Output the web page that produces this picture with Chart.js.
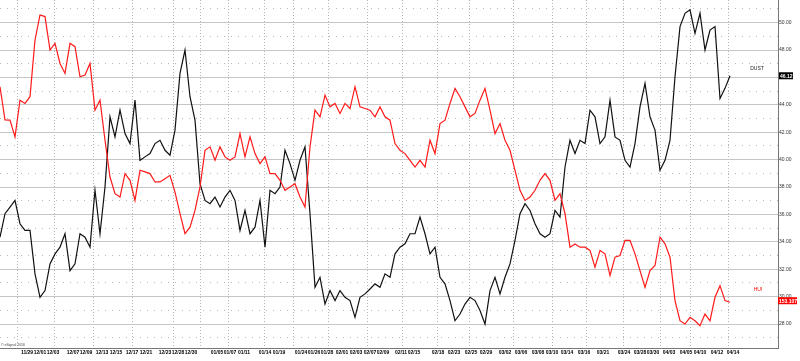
<!DOCTYPE html>
<html>
<head>
<meta charset="utf-8">
<script src="https://cdn.jsdelivr.net/npm/chart.js@4.4.7/dist/chart.umd.min.js"></script>
<style>
  html, body { margin: 0; padding: 0; background: #fff; }
  canvas { display: block; }
</style>
</head>
<body>
<canvas id="chart" width="800" height="361"></canvas>
<script>
// DUST closes, one value per bar
const dust = [
  34.34, 36.05, 36.54, 37.02, 35.32, 34.83, 34.83, 31.66, 29.95, 30.44,
  32.39, 33.12, 33.61, 34.59, 31.90, 32.39, 34.59, 34.34, 33.61, 37.76,
  34.59, 38.00, 43.12, 41.66, 43.61, 41.90, 41.17, 44.34, 39.95, 40.20,
  40.44, 41.17, 41.41, 40.68, 40.32, 42.15, 46.29, 48.00, 44.59, 42.88,
  38.24, 37.02, 36.78, 37.27, 36.54, 37.27, 37.76, 37.02, 34.83, 36.29,
  34.59, 35.07, 37.02, 33.61, 37.76, 37.51, 38.00, 40.68, 39.71, 38.49,
  39.95, 40.93, 36.05, 30.68, 31.41, 29.46, 30.44, 29.71, 30.44, 29.95,
  29.71, 28.49, 29.95, 30.20, 30.56, 30.93, 30.68, 31.66, 31.41, 33.12,
  33.61, 33.85, 34.59, 34.59, 35.80, 34.59, 33.12, 33.61, 31.41, 30.93,
  29.71, 28.24, 28.73, 29.46, 29.95, 29.71, 28.98, 28.00, 30.44, 31.41,
  30.20, 31.41, 32.39, 34.10, 36.05, 36.78, 36.29, 35.32, 34.59, 34.34,
  34.59, 36.29, 35.80, 39.46, 41.41, 40.44, 41.41, 41.17, 43.61, 43.12,
  41.17, 41.66, 44.34, 41.66, 41.41, 39.95, 39.46, 41.17, 43.85, 45.56,
  43.12, 42.15, 39.22, 39.95, 41.41, 46.05, 49.71, 50.68, 50.93, 49.22,
  50.68, 48.00, 49.46, 49.71, 44.46, 45.20, 46.12,
];

// HUI overlay, already rescaled onto the DUST axis
const hui = [
  45.32, 42.90, 42.88, 41.66, 44.34, 44.10, 44.59, 48.73, 50.56, 50.44,
  48.00, 48.49, 47.02, 46.29, 48.49, 48.24, 46.05, 46.17, 47.02, 43.61,
  44.34, 41.41, 38.73, 37.51, 37.27, 38.98, 38.49, 37.02, 39.22, 39.10,
  38.98, 38.37, 38.37, 38.61, 38.85, 37.63, 36.05, 34.59, 35.07, 36.29,
  38.00, 40.68, 40.93, 39.95, 40.93, 40.20, 39.95, 40.20, 41.90, 40.20,
  41.66, 40.44, 39.71, 40.20, 38.98, 38.98, 38.49, 37.76, 38.00, 38.24,
  37.27, 36.54, 40.93, 43.61, 43.12, 44.71, 43.85, 44.10, 43.37, 44.10,
  43.73, 45.32, 43.85, 43.73, 43.61, 43.12, 43.85, 43.12, 42.88, 41.17,
  40.68, 40.44, 39.95, 39.46, 39.95, 39.46, 41.41, 40.44, 42.63, 42.88,
  44.10, 45.20, 44.59, 43.85, 43.12, 43.37, 44.34, 45.20, 43.61, 41.90,
  42.63, 41.41, 40.68, 39.22, 37.76, 37.02, 37.27, 37.76, 38.49, 38.98,
  38.49, 37.02, 37.51, 36.05, 33.61, 33.85, 33.61, 33.61, 33.37, 32.15,
  33.37, 33.12, 31.54, 32.88, 33.00, 34.10, 34.10, 33.12, 31.90, 30.68,
  31.90, 32.27, 34.34, 33.85, 32.88, 29.71, 28.24, 28.00, 28.49, 28.24,
  27.88, 28.73, 28.24, 29.95, 30.80, 29.71, 29.59,
];

const dustLast = "46.12";
const huiLast = "153.107";

const dateLabels = [
  "11/29", "12/01", "12/03", "12/07", "12/09", "12/13", "12/15", "12/17",
  "12/21", "12/23", "12/28", "12/30", "01/05", "01/07", "01/11", "01/14",
  "01/19", "01/24", "01/26", "01/28", "02/01", "02/03", "02/07", "02/09",
  "02/11", "02/15", "02/18", "02/23", "02/25", "02/29", "03/02", "03/06",
  "03/08", "03/10", "03/14", "03/16", "03/21", "03/24", "03/28", "03/30",
  "04/03", "04/05", "04/10", "04/12", "04/14",
];
// bar index under each date label
const dateBars = [
  5.4, 8, 10.6, 14.6, 17.2, 20.4, 23.2, 26.4,
  29.2, 33, 35.6, 38.2, 43.4, 46, 48.8, 53,
  55.8, 60.2, 62.8, 65.4, 68.4, 71.2, 74, 76.6,
  80.2, 82.8, 87.6, 90.8, 94.2, 97.2, 101, 104.2,
  107.6, 110.4, 113.4, 116.8, 120.6, 124.8, 128, 130.6,
  133.8, 137.2, 140, 143.4, 146.6,
];
// bar index of the dotted vertical grid lines
const weekBars = [
  3.4, 10.8, 18.6, 26.4, 34.6, 40, 45.8, 52.8, 58.6, 65.6, 73.4,
  80.4, 87.4, 93.8, 102.6, 110.4, 117.2, 124.6, 132, 138, 145.6,
];
const yTicks = [
  27, 28, 29, 30, 31, 32, 33, 34, 35, 36, 37, 38, 39,
  40, 41, 42, 43, 44, 45, 46, 47, 48, 49, 50, 51,
];

const lastBar = 155.6;
const font = "'Liberation Sans', Arial, sans-serif";

function drawTag(ctx, x, y, text, bg, width) {
  ctx.fillStyle = bg;
  ctx.fillRect(x, y - 3.5, width, 7);
  ctx.fillStyle = "#fff";
  ctx.font = `bold 5px ${font}`;
  ctx.textAlign = "left";
  ctx.textBaseline = "middle";
  ctx.fillText(text, x + 1, y + 0.5);
}

const endLabels = {
  id: "endLabels",
  afterDraw(chart) {
    const { ctx, chartArea, scales } = chart;
    const dustY = scales.y.getPixelForValue(dust[dust.length - 1]);
    const huiY = scales.y.getPixelForValue(hui[hui.length - 1]);
    ctx.save();
    ctx.font = `5px ${font}`;
    ctx.textAlign = "center";
    ctx.textBaseline = "middle";
    ctx.fillStyle = "#222";
    ctx.fillText("DUST", chartArea.right - 21, dustY - 7);
    ctx.fillStyle = "#f00";
    ctx.fillText("HUI", chartArea.right - 20, huiY - 13);
    drawTag(ctx, chartArea.right + 1, dustY, dustLast, "#000", 14);
    drawTag(ctx, chartArea.right, huiY - 1.5, huiLast, "#f00", 19);
    ctx.font = `3.5px ${font}`;
    ctx.fillStyle = "#444";
    ctx.textAlign = "left";
    ctx.fillText("© eSignal 2016", 1, chartArea.bottom - 3);
    ctx.restore();
  },
};

new Chart(document.getElementById("chart"), {
  type: "line",
  data: {
    datasets: [
      {
        label: "HUI",
        data: hui.map((v, i) => ({ x: i, y: v })),
        borderColor: "#ff1a1a",
        borderWidth: 1.2,
        pointRadius: 0,
        tension: 0,
      },
      {
        label: "DUST",
        data: dust.map((v, i) => ({ x: i, y: v })),
        borderColor: "#111",
        borderWidth: 1.2,
        pointRadius: 0,
        tension: 0,
      },
    ],
  },
  options: {
    responsive: false,
    animation: false,
    layout: { padding: 0 },
    plugins: { legend: { display: false }, tooltip: { enabled: false } },
    scales: {
      x: {
        type: "linear",
        position: "bottom",
        min: 0,
        max: lastBar,
        afterBuildTicks: (scale) => {
          scale.ticks = dateBars.map((v) => ({ value: v }));
        },
        afterFit: (scale) => {
          scale.height = 13;
          scale.paddingLeft = 0;
          scale.paddingRight = 0;
        },
        grid: { display: false, drawTicks: false },
        border: { display: true, color: "#777", width: 1 },
        ticks: {
          autoSkip: false,
          maxRotation: 0,
          minRotation: 0,
          padding: 2,
          color: "#000",
          font: { family: font, size: 5, weight: "bold" },
          callback: (value, index) => dateLabels[index],
        },
      },
      xg: {
        type: "linear",
        position: "bottom",
        min: 0,
        max: lastBar,
        afterBuildTicks: (scale) => {
          scale.ticks = weekBars.map((v) => ({ value: v }));
        },
        afterFit: (scale) => {
          scale.height = 0;
          scale.paddingLeft = 0;
          scale.paddingRight = 0;
        },
        grid: { color: "#b4b4b4", lineWidth: 1, drawTicks: false },
        border: { display: false, dash: [1, 2] },
        ticks: { display: false },
      },
      y: {
        type: "linear",
        position: "right",
        min: 26.25,
        max: 51.65,
        afterBuildTicks: (scale) => {
          scale.ticks = yTicks.map((v) => ({ value: v }));
        },
        afterFit: (scale) => {
          scale.width = 22;
          scale.paddingTop = 0;
          scale.paddingBottom = 0;
        },
        grid: {
          drawTicks: false,
          lineWidth: 1,
          color: (ctx) =>
            ctx.tick && ctx.tick.value % 2 === 0 ? "#c6c6c6" : "#b8b8b8",
        },
        border: {
          display: true,
          color: "#777",
          width: 1,
          dash: (ctx) => (ctx.tick && ctx.tick.value % 2 !== 0 ? [1, 6] : []),
        },
        ticks: {
          padding: 1,
          color: "#333",
          font: { family: font, size: 5 },
          callback: (value) => (value % 2 === 0 ? value.toFixed(2) : ""),
        },
      },
    },
  },
  plugins: [endLabels],
});
</script>
</body>
</html>
